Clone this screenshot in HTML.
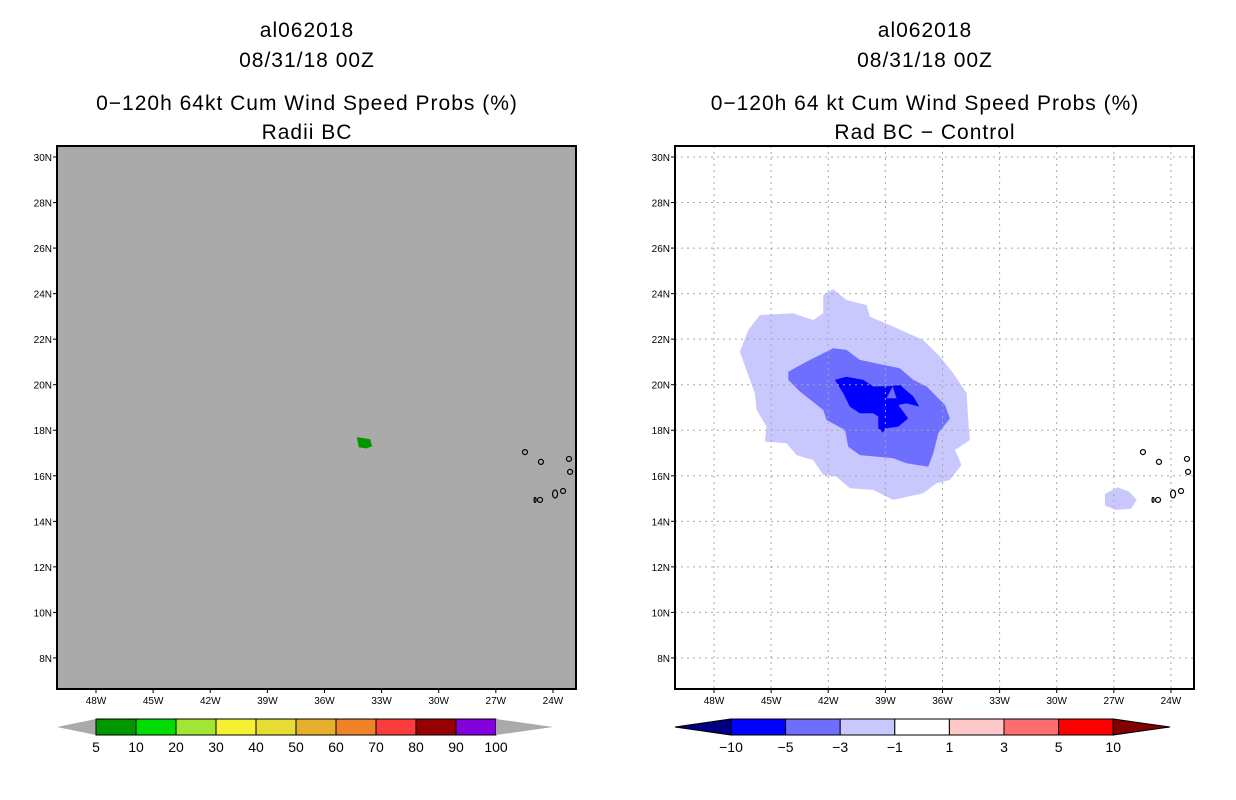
<!DOCTYPE html>
<html><head><meta charset="utf-8"><style>
body{margin:0;background:#fff;width:1236px;height:800px;overflow:hidden}
svg{display:block;font-family:"Liberation Sans",sans-serif}
</style></head><body>
<svg id="s" width="1236" height="800" xmlns="http://www.w3.org/2000/svg"></svg>
<script>
const latTicks=[30,28,26,24,22,20,18,16,14,12,10,8];
const lonTicks=[48,45,42,39,36,33,30,27,24];
const leftLevels=["5","10","20","30","40","50","60","70","80","90","100"];
const leftColors=["#009600","#00dc00","#a0e632","#f5f032","#e6dc32","#e6af2d","#f08228","#fa3c3c","#960000","#8200dc"];
const rightLevels=["−10","−5","−3","−1","1","3","5","10"];
const rightColors=["#0000ff","#6e6eff","#c8c8ff","#ffffff","#ffc8c8","#ff6e6e","#ff0000"];
const greenLon=[34.3,33.6,33.5,33.8,34.2];
const greenLat=[17.7,17.6,17.3,17.2,17.25];
const lightLon=[42.26,41.74,41.04,39.99,39.81,38.59,37.01,36.13,35.43,34.73,34.65,34.56,35.35,35.0,35.61,36.31,37.01,38.59,39.64,40.86,41.56,42.26,42.79,43.66,44.19,45.33,45.24,45.76,45.85,46.64,46.2,45.59,43.84,42.79,42.26];
const lightLat=[23.94,24.19,23.72,23.5,22.99,22.55,21.96,21.23,20.5,19.62,18.45,17.57,17.13,16.48,15.82,15.67,15.23,14.94,15.38,15.45,15.96,16.04,16.69,16.91,17.43,17.5,18.16,18.89,19.62,21.45,22.4,23.06,23.14,22.84,23.14];
const medLon=[44.1,43.14,42.26,41.74,41.04,40.34,38.24,37.53,36.83,35.87,35.61,36.22,36.48,36.75,37.89,38.59,40.34,40.95,41.12,42.09,42.26,43.49,44.1];
const medLat=[20.57,21.01,21.38,21.6,21.53,21.09,20.72,20.21,19.92,19.11,18.52,17.87,16.99,16.4,16.55,16.77,16.91,17.28,18.01,18.45,18.89,19.7,20.21];
const darkLon=[41.65,41.04,40.16,39.64,38.76,38.24,37.53,37.22,37.89,38.32,37.8,38.32,38.94,39.15,39.37,39.37,39.64,40.34,40.86,41.21];
const darkLat=[20.21,20.35,20.21,19.92,19.94,19.99,19.48,19.04,19.18,19.11,18.52,18.16,18.09,17.9,18.09,18.6,18.75,18.75,19.04,19.62];
const holeLon=[38.94,38.62,38.41];
const holeLat=[19.4,19.92,19.4];
const patchLon=[27.47,26.8,26.2,25.8,26.1,26.9,27.47];
const patchLat=[15.2,15.5,15.3,14.95,14.55,14.5,14.7];
const islLon=[25.47,24.63,23.16,23.1,24.94,24.68,23.89,23.47];
const islLat=[17.04,16.61,16.74,16.17,14.94,14.94,15.2,15.33];
const NS="http://www.w3.org/2000/svg",S=document.getElementById('s');
function el(t,a,p){const e=document.createElementNS(NS,t);for(const k in a)e.setAttribute(k,a[k]);(p||S).appendChild(e);return e;}
function txt(x,y,s,sz,anc,p){const e=el('text',{x:x,y:y,'font-size':sz,'text-anchor':anc||'middle',fill:'#000'},p);e.textContent=s;return e;}
const X0=[96,714],Y30=157,PXLON=19.04,PXLAT=22.77;
function xs(i,lon){return X0[i]+(48-lon)*PXLON;}
function ys(lat){return Y30+(30-lat)*PXLAT;}
function poly(i,lons,lats,fill,name,stroke){const pts=lons.map((l,k)=>xs(i,l).toFixed(1)+','+ys(lats[k]).toFixed(1)).join(' ');
 const e=el('polygon',{points:pts,fill:fill,stroke:stroke||'none','stroke-width':1});
 
 return e;}
const titles=[["al062018","08/31/18 00Z","0−120h 64kt Cum Wind Speed Probs (%)","Radii BC"],["al062018","08/31/18 00Z","0−120h 64 kt Cum Wind Speed Probs (%)","Rad BC − Control"]];
[0,1].forEach(i=>{
 const bx=i?675:57,cx=bx+250;
 const g=el('g',{});
 
 
 const t=titles[i];
 [[37,t[0]],[67,t[1]],[110,t[2]],[139,t[3]]].forEach(([y,s])=>{const e=txt(cx,y,s,21,'middle',g);e.setAttribute('letter-spacing','1');
  
  });
 const bg=el('rect',{x:bx,y:146,width:519,height:543,fill:i?'#fff':'#aaaaaa'},g);
 
 
 if(i===0){poly(0,greenLon,greenLat,'#009600','green-prob-area');}
 else{
  poly(1,lightLon,lightLat,'#c8c8ff','contour-minus1');
  poly(1,patchLon,patchLat,'#c8c8ff','contour-minus1-east');
  poly(1,medLon,medLat,'#6e6eff','contour-minus3');
  poly(1,darkLon,darkLat,'#0000ff','contour-minus5');
  poly(1,holeLon,holeLat,'#6e6eff','contour-hole');
  latTicks.forEach(l=>{const e=el('line',{x1:bx,x2:bx+519,y1:ys(l),y2:ys(l),stroke:'#a8a8a8','stroke-dasharray':'2,4'});
   
   });
  lonTicks.forEach(l=>{const e=el('line',{x1:xs(1,l),x2:xs(1,l),y1:146,y2:689,stroke:'#a8a8a8','stroke-dasharray':'2,4'});
   
   });
 }
 islLon.forEach((l,k)=>{const e=el('ellipse',{cx:xs(i,l),cy:ys(islLat[k]),rx:k==4?1:2.5,ry:k==6?4:2.5,fill:'none',stroke:'#000','stroke-width':1.2});
  
  });
 const fr=el('rect',{x:bx,y:146,width:519,height:543,fill:'none',stroke:'#000','stroke-width':2});
 
 
 latTicks.forEach(l=>{el('line',{x1:bx-4,x2:bx,y1:ys(l),y2:ys(l),stroke:'#000'});
  const e=txt(bx-5,ys(l)+4,l+'N',10,'end');
  
  });
 lonTicks.forEach(l=>{el('line',{x1:xs(i,l),x2:xs(i,l),y1:689,y2:693,stroke:'#000'});
  const e=txt(xs(i,l),704,l+'W',10);
  
  });
});
(function(){const x0=96,w=40,y=719,h=16;
 el('polygon',{points:`57,727 ${x0},${y} ${x0},${y+h}`,fill:'#aaa'});
 leftColors.forEach((c,k)=>{const e=el('rect',{x:x0+k*w,y:y,width:w,height:h,fill:c,stroke:'#000'});
  
  });
 el('polygon',{points:`${x0+400},${y} ${x0+400},${y+h} 553,727`,fill:'#aaa'});
 leftLevels.forEach((s,k)=>{const e=txt(x0+k*w,752,s,14);
  
  });
})();
(function(){const x0=731,w=54.6,y=719,h=16;
 el('polygon',{points:`675,727 ${x0},${y} ${x0},${y+h}`,fill:'#000080',stroke:'#000'});
 rightColors.forEach((c,k)=>{const e=el('rect',{x:x0+k*w,y:y,width:w,height:h,fill:c,stroke:'#000'});
  
  });
 const xe=x0+7*w;
 el('polygon',{points:`${xe},${y} ${xe},${y+h} 1170,727`,fill:'#800000',stroke:'#000'});
 rightLevels.forEach((s,k)=>{const e=txt(x0+k*w,752,s,14);
  
  });
})();
</script>
</body></html>
